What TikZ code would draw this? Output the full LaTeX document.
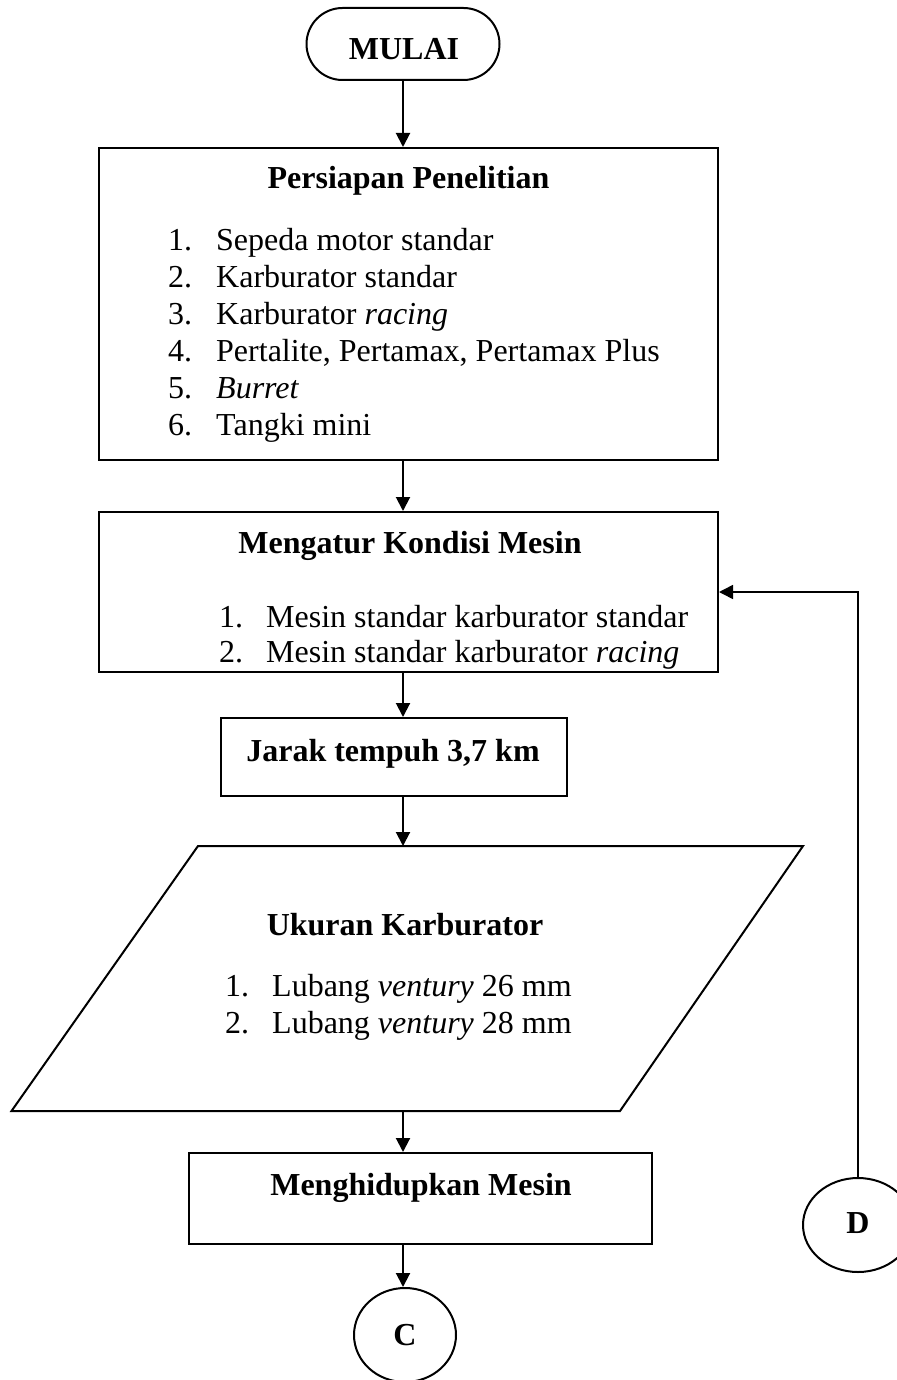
\documentclass[tikz,border=0pt]{standalone}
\usepackage{fontspec}
\setmainfont{Liberation Serif}
\usetikzlibrary{arrows.meta,shapes.geometric}
\tikzset{
	box/.style={draw,line width=2pt,inner sep=0pt},
	txt/.style={inner sep=0pt,anchor=base west,font=\fontsize{32}{36}\selectfont},
	ttl/.style={inner sep=0pt,anchor=base,font=\fontsize{32}{36}\selectfont\bfseries},
	conn/.style={->,line width=2pt},
}
\begin{document}
\begin{tikzpicture}[>={Triangle[length=14pt,width=14pt]},line join=miter,x=1pt,y=-1pt]
	\useasboundingbox (0,0) rectangle (896,1380);
	% terminal
	\node[box,rounded corners=36pt,minimum width=193,minimum height=72] (mulai) at (403,44) {};
	\node[ttl] (mulaiT) at (404,60) {MULAI};
	% persiapan
	\node[box,minimum width=619,minimum height=312] (prep) at (408.5,304) {};
	\node[ttl] (prepT) at (408.5,188.5) {Persiapan Penelitian};
	\foreach \t [count=\i] in {Sepeda motor standar,Karburator standar,Karburator \textit{racing},{Pertalite, Pertamax, Pertamax Plus},\textit{Burret},Tangki mini}{
		\node[txt] (prepN\i) at (168,{214+36.9*\i}) {\i.};
		\node[txt] (prepI\i) at (216,{214+36.9*\i}) {\t};
	}
	% kondisi mesin
	\node[box,minimum width=619,minimum height=160] (kond) at (408.5,592) {};
	\node[ttl] (kondT) at (410,553) {Mengatur Kondisi Mesin};
	\foreach \t [count=\i] in {Mesin standar karburator standar,Mesin standar karburator \textit{racing}}{
		\node[txt] (kondN\i) at (219,{591.5+35.5*\i}) {\i.};
		\node[txt] (kondI\i) at (266,{591.5+35.5*\i}) {\t};
	}
	% jarak
	\node[box,minimum width=346,minimum height=78] (jarak) at (394,757) {};
	\node[ttl] (jarakT) at (393,761.5) {Jarak tempuh 3,7 km};
	% ukuran karburator
	\path (198,846) coordinate (ukA) (803,846) coordinate (ukB)
		(620,1111) coordinate (ukC) (11.5,1111) coordinate (ukD);
	\draw[line width=2pt] (ukA) -- (ukB) -- (ukC) -- (ukD) -- cycle;
	\node[ttl] (ukT) at (405,935) {Ukuran Karburator};
	\foreach \t [count=\i] in {Lubang \textit{ventury} 26 mm,Lubang \textit{ventury} 28 mm}{
		\node[txt] (ukN\i) at (225,{960.5+36.3*\i}) {\i.};
		\node[txt] (ukI\i) at (272,{960.5+36.3*\i}) {\t};
	}
	% hidupkan mesin
	\node[box,minimum width=463,minimum height=91] (hidup) at (420.5,1198.5) {};
	\node[ttl] (hidupT) at (421,1195) {Menghidupkan Mesin};
	% konektor
	\node[box,ellipse,minimum width=102,minimum height=94] (C) at (405,1335) {};
	\node[ttl] (CT) at (405,1345) {C};
	\node[box,ellipse,minimum width=110,minimum height=94] (D) at (858,1225) {};
	\node[ttl] (DT) at (858,1233) {D};
	% panah
	\draw[conn] (mulai.south) -- (mulai.south |- prep.north);
	\draw[conn] (prep.south -| mulai) -- (kond.north -| mulai);
	\draw[conn] (kond.south -| mulai) -- (jarak.north -| mulai);
	\draw[conn] (jarak.south -| mulai) -- (mulai |- ukA);
	\draw[conn] (mulai |- ukD) -- (hidup.north -| mulai);
	\draw[conn] (hidup.south -| mulai) -- (C.north -| mulai);
	\draw[conn,line width=1.6pt] (D.north) |- (kond.east);
\end{tikzpicture}
\end{document}
